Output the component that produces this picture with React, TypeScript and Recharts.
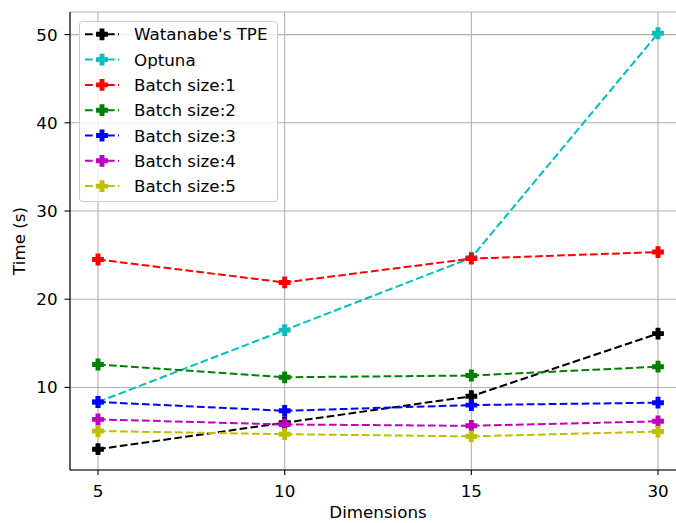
import React from "react";
import { LineChart, Line, XAxis, YAxis, CartesianGrid } from "recharts";

const dimensions = ["5", "10", "15", "30"];
const watanabe = [3.0, 6.0, 9.0, 16.1];
const optuna = [8.35, 16.5, 24.7, 50.15];
const batch1 = [24.5, 21.9, 24.6, 25.35];
const batch2 = [12.6, 11.15, 11.35, 12.35];
const batch3 = [8.35, 7.35, 8.0, 8.27];
const batch4 = [6.38, 5.8, 5.65, 6.16];
const batch5 = [5.06, 4.7, 4.45, 5.0];
const yTicks = [10, 20, 30, 40, 50];

const series = [
  { key: "watanabe", name: "Watanabe's TPE", color: "#000000", values: watanabe },
  { key: "optuna", name: "Optuna", color: "#00bfbf", values: optuna },
  { key: "b1", name: "Batch size:1", color: "#ff0000", values: batch1 },
  { key: "b2", name: "Batch size:2", color: "#008000", values: batch2 },
  { key: "b3", name: "Batch size:3", color: "#0000ff", values: batch3 },
  { key: "b4", name: "Batch size:4", color: "#bf00bf", values: batch4 },
  { key: "b5", name: "Batch size:5", color: "#bfbf00", values: batch5 },
];

const data = dimensions.map((d, i) => {
  const row: any = { dim: d };
  series.forEach((s) => (row[s.key] = s.values[i]));
  return row;
});

const FONT = "DejaVu Sans, sans-serif";
const FS = 16.7;
const DASH = "7.7 3.3";

function plusPoints(cx: number, cy: number, r: number, a: number) {
  const p = [
    [-a, -r], [a, -r], [a, -a], [r, -a], [r, a], [a, a],
    [a, r], [-a, r], [-a, a], [-r, a], [-r, -a], [-a, -a],
  ];
  return p.map(([x, y]) => `${cx + x},${cy + y}`).join(" ");
}

const PlusMarker = (color: string) => (props: any) => {
  const { cx, cy, index } = props;
  if (cx == null || cy == null) return <g key={index} />;
  return (
    <polygon
      key={index}
      points={plusPoints(cx, cy, 5.2, 1.75)}
      fill={color}
      stroke={color}
      strokeWidth={1.4}
      strokeLinejoin="miter"
    />
  );
};

const LegendBox = () => {
  const w = 199;
  const h = 181;
  return (
    <svg
      width={w}
      height={h}
      style={{ position: "absolute", left: 79, top: 21, overflow: "visible" }}
    >
      <rect x={0.5} y={0.5} width={w - 1} height={h - 1} rx={3} ry={3}
        fill="rgba(255,255,255,0.8)" stroke="#cccccc" strokeWidth={1} />
      {series.map((s, i) => {
        const cy = 13.3 + i * 25.3;
        return (
          <g key={s.key}>
            <line x1={6} x2={40} y1={cy} y2={cy} stroke={s.color} strokeWidth={2}
              strokeDasharray={DASH} />
            <polygon points={plusPoints(23, cy, 5.2, 1.75)} fill={s.color}
              stroke={s.color} strokeWidth={1.4} />
            <text x={55} y={cy} dy="0.36em" fontFamily={FONT} fontSize={FS} fill="#000">
              {s.name}
            </text>
          </g>
        );
      })}
    </svg>
  );
};

const YLabel = (props: any) => {
  const vb = props.viewBox || {};
  const cx = (vb.x ?? 0) + 25;
  const cy = (vb.y ?? 0) + (vb.height ?? 0) / 2;
  return (
    <text x={cx} y={cy} transform={`rotate(-90 ${cx} ${cy})`} textAnchor="middle"
      fontFamily={FONT} fontSize={FS} fill="#000">
      Time (s)
    </text>
  );
};

const XLabel = (props: any) => {
  const vb = props.viewBox || {};
  const cx = (vb.x ?? 0) + (vb.width ?? 0) / 2;
  const cy = (vb.y ?? 0) + 48;
  return (
    <text x={cx} y={cy} textAnchor="middle" fontFamily={FONT} fontSize={FS} fill="#000">
      Dimensions
    </text>
  );
};

export default function App() {
  return (
    <div style={{ position: "absolute", left: 0, top: 0, width: 676, height: 523, overflow: "hidden", background: "#fff" }}>
      <LineChart width={700} height={523} data={data}
        margin={{ top: 12, right: 14, left: 0, bottom: 0 }}>
        <CartesianGrid stroke="#b0b0b0" strokeWidth={1.1} vertical={true} horizontal={true} />
        <XAxis dataKey="dim" type="category" padding={{ left: 28, right: 28 }}
          height={53} tickSize={5} tickMargin={10}
          axisLine={{ stroke: "#000", strokeWidth: 1.1 }}
          tickLine={{ stroke: "#000", strokeWidth: 1.1 }}
          tick={{ fontFamily: FONT, fontSize: FS, fill: "#000" }}
          interval={0}
          label={<XLabel />} />
        <XAxis xAxisId="top" orientation="top" dataKey="dim" height={0} tick={false}
          tickLine={false} axisLine={{ stroke: "#000", strokeWidth: 1.1 }} />
        <YAxis type="number" domain={[0.64, 52.56]} ticks={yTicks} width={70}
          allowDataOverflow={true}
          tickSize={5.5} tickMargin={7}
          axisLine={{ stroke: "#000", strokeWidth: 1.1 }}
          tickLine={{ stroke: "#000", strokeWidth: 1.1 }}
          tick={{ fontFamily: FONT, fontSize: FS, fill: "#000" }}
          label={<YLabel />} />
        {series.map((s) => (
          <Line key={s.key} dataKey={s.key} name={s.name} stroke={s.color}
            strokeWidth={2} strokeDasharray={DASH} type="linear"
            dot={PlusMarker(s.color)} activeDot={false}
            isAnimationActive={false} />
        ))}
      </LineChart>
      <LegendBox />
    </div>
  );
}
